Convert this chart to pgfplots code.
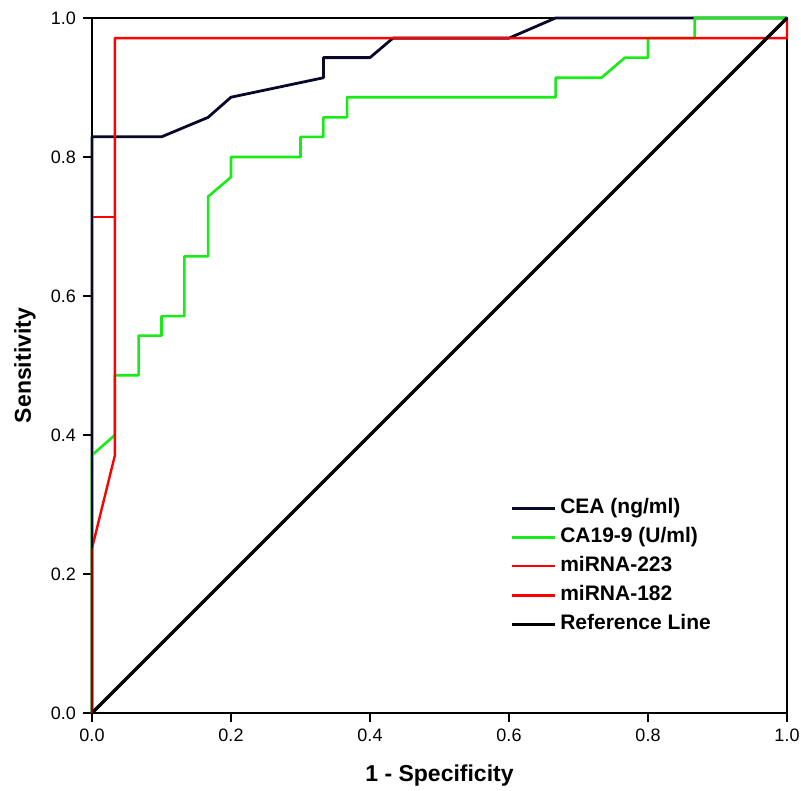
\documentclass[border=0pt]{standalone}
\usepackage{fontspec}
\setmainfont{Liberation Sans}
\usepackage{pgfplots}
\pgfplotsset{compat=1.18}
\definecolor{ceanavy}{RGB}{8,8,40}
\definecolor{cagreen}{RGB}{25,235,25}
\definecolor{mired}{RGB}{255,0,0}

\begin{document}
\begin{tikzpicture}
\begin{axis}[
  scale only axis,
  width=347.5bp, height=347.5bp,
  xmin=0, xmax=1, ymin=0, ymax=1,
  clip=false,
  axis line style={line width=0.6bp},
  xtick={0,0.2,0.4,0.6,0.8,1},
  ytick={0,0.2,0.4,0.6,0.8,1},
  tick align=outside, xtick pos=bottom, ytick pos=left,
  major tick length=4.5bp,
  tick style={line width=0.6bp, black},
  ticklabel style={font=\fontsize{9bp}{10bp}\selectfont},
  /pgf/number format/fixed,
  /pgf/number format/fixed zerofill,
  /pgf/number format/precision=1,
  /pgf/number format/assume math mode=true,
  xlabel={1 - Specificity},
  ylabel={Sensitivity},
  label style={font=\fontsize{11.5bp}{13bp}\selectfont\bfseries},
  xlabel style={at={(axis description cs:0.5,-0.0906)}, anchor=center},
  ylabel style={at={(axis description cs:-0.0964,0.5)}, anchor=center},
  legend style={draw=none, fill=none, inner sep=0pt,
    at={(axis description cs:0.601,0.31)}, anchor=north west,
    font=\fontsize{10.5bp}{12bp}\selectfont\bfseries,
    nodes={inner sep=0.5bp, text height=7.5bp, text depth=2bp},
    row sep=4bp,
    /tikz/every odd column/.append style={column sep=1.5bp}},
  legend cell align=left,
  legend image code/.code={\draw[#1] (0bp,0bp) -- (21.5bp,0bp);},
  every axis plot/.append style={line join=round},
]
% CEA (ng/ml)
\addplot[color=ceanavy, line width=1.4bp] coordinates {
  (0,0)(0,0.829)(0.1,0.829)(0.167,0.857)(0.2,0.886)(0.333,0.914)(0.333,0.943)
  (0.4,0.943)(0.433,0.971)(0.6,0.971)(0.667,1)(1,1)};
\addlegendentry{CEA (ng/ml)}
% CA19-9 (U/ml)
\addplot[color=cagreen, line width=1.3bp] coordinates {
  (0,0)(0,0.371)(0.033,0.4)(0.033,0.486)(0.067,0.486)(0.067,0.543)(0.1,0.543)
  (0.1,0.571)(0.133,0.571)(0.133,0.657)(0.167,0.657)(0.167,0.743)(0.2,0.771)
  (0.2,0.8)(0.3,0.8)(0.3,0.829)(0.333,0.829)(0.333,0.857)(0.367,0.857)
  (0.367,0.886)(0.667,0.886)(0.667,0.914)(0.733,0.914)(0.767,0.943)(0.8,0.943)
  (0.8,0.971)(0.867,0.971)(0.867,1)(1,1)};
\addlegendentry{CA19-9 (U/ml)}
% miRNA-223
\addplot[color=mired, line width=1.0bp] coordinates {
  (0,0)(0,0.714)(0.033,0.714)(0.033,0.971)(1,0.971)(1,1)};
\addlegendentry{miRNA-223}
% miRNA-182
\addplot[color=mired, line width=1.2bp] coordinates {
  (0,0)(0,0.237)(0.033,0.371)(0.033,0.971)(1,0.971)(1,1)};
\addlegendentry{miRNA-182}
% reference line
\addplot[color=black, line width=1.6bp] coordinates {(0,0)(1,1)};
\addlegendentry{Reference Line}
% CEA's first step shows above the red ones in the original
\addplot[color=ceanavy, line width=1.4bp, forget plot] coordinates {
  (0,0.237)(0,0.829)};
\addplot[color=mired!55!black, line width=1.2bp, forget plot] coordinates {
  (0,0)(0,0.237)};
\end{axis}
\pgfresetboundingbox
\useasboundingbox ([shift={(-46bp,-39bp)}]current axis.south west)
  rectangle ([shift={(7bp,9bp)}]current axis.north east);
\end{tikzpicture}
\end{document}
